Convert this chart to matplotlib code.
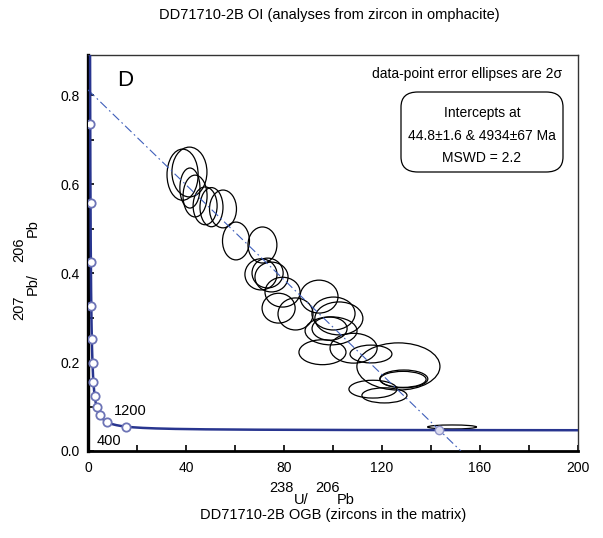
import numpy as np
import matplotlib
matplotlib.use("Agg")
import matplotlib.pyplot as plt
from matplotlib.patches import Ellipse, FancyBboxPatch

plt.rcParams['font.family'] = ['Liberation Sans', 'DejaVu Sans']

# decay constants (1/yr) and U ratio for the Tera-Wasserburg concordia
L238 = 1.55125e-10
L235 = 9.8485e-10
U85 = 137.88

# concordia tick marks (Ma) and discordia intercepts (Ma)
tick_ages = [400, 800, 1200, 1600, 2000, 2400, 2800, 3200, 3600, 4000, 4400, 4800]
lower_int = 44.8
upper_int = 4934

# error ellipses (2 sigma): centre 238U/206Pb, centre 207Pb/206Pb, full width, full height
ell_x = [38.6, 41.4, 41.6, 43.7, 47.8, 50.4, 55.1, 60.4, 71.2, 70.6, 73.3, 74.9, 79.4, 77.8, 84.7,
         94.3, 100.2, 102.4, 98.6, 99.2, 95.7, 108.4, 115.5, 126.7, 128.9, 128.6, 116.3, 121.0, 148.6]
ell_y = [0.621, 0.627, 0.591, 0.573, 0.551, 0.548, 0.544, 0.472, 0.463, 0.397, 0.400, 0.391, 0.357,
         0.321, 0.308, 0.347, 0.309, 0.298, 0.275, 0.270, 0.222, 0.231, 0.218, 0.190, 0.162, 0.161,
         0.139, 0.125, 0.054]
ell_w = [12.7, 14.3, 8.2, 9.8, 9.8, 9.4, 11.0, 11.0, 11.8, 13.1, 12.7, 13.5, 14.3, 13.5, 14.3,
         15.5, 17.6, 19.6, 14.3, 21.2, 19.2, 19.2, 17.1, 33.9, 19.6, 18.8, 19.6, 18.4, 20.0]
ell_h = [0.115, 0.112, 0.090, 0.094, 0.085, 0.088, 0.085, 0.085, 0.081, 0.070, 0.067, 0.067, 0.067,
         0.067, 0.072, 0.074, 0.074, 0.074, 0.052, 0.063, 0.056, 0.067, 0.040, 0.106, 0.040, 0.036,
         0.040, 0.034, 0.009]


def tw(age_ma):
    t = np.asarray(age_ma, dtype=float) * 1e6
    e8 = np.exp(L238 * t) - 1
    e5 = np.exp(L235 * t) - 1
    return 1 / e8, e5 / e8 / U85


W, H = 603, 538
fig = plt.figure(figsize=(W / 100, H / 100), dpi=100)
ax = fig.add_axes([88 / W, 1 - 451 / H, 490 / W, 396 / H])

# concordia curve
ages = np.linspace(31, 6000, 3000)
cx, cy = tw(ages)
ax.plot(cx, cy, color='#28358f', lw=1.8, zorder=4)
tx, ty = tw(tick_ages)
ax.plot(tx, ty, 'o', ms=6, mfc='white', mec='#6d74b6', mew=1.3, zorder=5)
lx, ly = tw(lower_int)
ax.plot(lx, ly, 'o', ms=6, mfc='#dcdcf0', mec='#8e93c8', mew=1.0, zorder=5)

# discordia (chord through both intercepts), extended to the x axis
ux, uy = tw(upper_int)
slope = (ly - uy) / (lx - ux)
dx = np.array([0, ux, lx, ux - uy / slope])
dy = uy + slope * (dx - ux)
ax.plot(dx, dy, color='#3f5fba', lw=0.8, dashes=[8, 3, 1.5, 3], zorder=3)

for x, y, w, h in zip(ell_x, ell_y, ell_w, ell_h):
    ax.add_patch(Ellipse((x, y), w, h, fill=False, ec='black', lw=0.9, zorder=2))

ax.set_xlim(0, 200)
ax.set_ylim(0, 0.89)
ax.set_xticks(np.arange(0, 201, 40))
ax.set_xticks(np.arange(20, 200, 40), minor=True)
ax.set_yticks([0.0, 0.2, 0.4, 0.6, 0.8])
ax.set_yticks([0.1, 0.3, 0.5, 0.7], minor=True)
ax.set_yticklabels(['0.0', '0.2', '0.4', '0.6', '0.8'])
ax.tick_params(which='both', direction='in', length=4, width=1.2, labelsize=10)
ax.tick_params(axis='x', pad=7)
ax.tick_params(axis='y', pad=6)
ax.spines['left'].set_linewidth(2.4)
ax.spines['bottom'].set_linewidth(2.0)
for s in ['top', 'right']:
    ax.spines[s].set_linewidth(1.0)
    ax.spines[s].set_color('#333333')

ax.text(17.1, 0.090, '1200', fontsize=10.5, ha='center', va='center')
ax.text(8.4, 0.022, '400', fontsize=10.5, ha='center', va='center')


def ftext(px, py, s, ha='center', **kw):
    fig.text(px / W, 1 - py / H, s, ha=ha, va='center', **kw)


ftext(125, 81, 'D', fontsize=16)
ftext(562, 74, 'data-point error ellipses are 2\u03c3', ha='right', fontsize=10)
box = FancyBboxPatch((401 / W, 1 - 172 / H), 162 / W, 80 / H,
                     boxstyle='round,pad=0,rounding_size=0.028',
                     transform=fig.transFigure, fc='white', ec='black', lw=0.9)
fig.patches.append(box)
ftext(482, 113, 'Intercepts at', fontsize=10)
ftext(482, 136, '44.8\u00b11.6 & 4934\u00b167 Ma', fontsize=10)
ftext(482, 158, 'MSWD = 2.2', fontsize=10)

ftext(329, 15, 'DD71710-2B OI (analyses from zircon in omphacite)', fontsize=10.5)
ftext(333, 515, 'DD71710-2B OGB (zircons in the matrix)', fontsize=10.5)

ftext(281.5, 488, '238', fontsize=10.5)
ftext(301, 500, 'U/', fontsize=10.5)
ftext(327.5, 488, '206', fontsize=10.5)
ftext(346, 500, 'Pb', fontsize=10.5)

ftext(19, 308, '207', fontsize=10.5, rotation=90)
ftext(33, 284, 'Pb/', fontsize=10.5, rotation=90)
ftext(19, 250, '206', fontsize=10.5, rotation=90)
ftext(33, 228, 'Pb', fontsize=10.5, rotation=90)

fig.savefig('out.png', dpi=100)
